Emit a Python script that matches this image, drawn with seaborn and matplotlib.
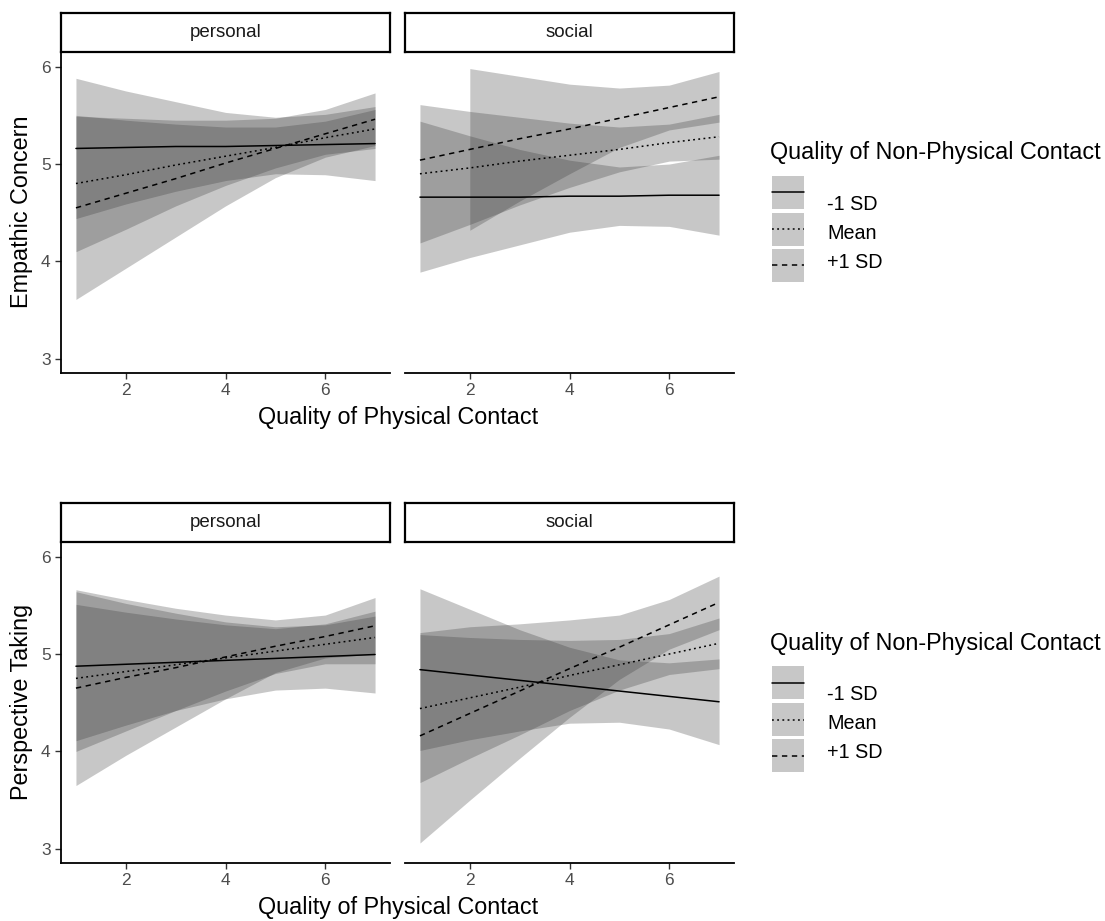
import numpy as np
import pandas as pd
import matplotlib
matplotlib.use("Agg")
import matplotlib.pyplot as plt
from matplotlib.patches import Rectangle
import seaborn as sns

# ---- data -----------------------------------------------------------------

X_POINTS = [1, 2, 3, 4, 5, 6, 7]
LEVELS = ["-1 SD", "Mean", "+1 SD"]
FACETS = ["personal", "social"]
X_TICKS = [2, 4, 6]
Y_TICKS = [3, 4, 5, 6]
X_TITLE = "Quality of Physical Contact"
Y_TITLES = ["Empathic Concern", "Perspective Taking"]
LEGEND_TITLE = "Quality of Non-Physical Contact"

# Empathic Concern / personal
EC_PERSONAL_FIT = {
    "-1 SD": [5.16, 5.17, 5.18, 5.18, 5.19, 5.20, 5.21],
    "Mean": [4.80, 4.89, 4.99, 5.08, 5.17, 5.27, 5.36],
    "+1 SD": [4.55, 4.70, 4.85, 5.01, 5.16, 5.31, 5.46],
}
EC_PERSONAL_LOW = {
    "-1 SD": [4.44, 4.59, 4.72, 4.83, 4.90, 4.89, 4.83],
    "Mean": [4.10, 4.33, 4.57, 4.78, 4.96, 5.10, 5.16],
    "+1 SD": [3.61, 3.93, 4.25, 4.57, 4.86, 5.07, 5.19],
}
EC_PERSONAL_HIGH = {
    "-1 SD": [5.88, 5.75, 5.64, 5.53, 5.48, 5.51, 5.59],
    "Mean": [5.50, 5.45, 5.41, 5.38, 5.38, 5.44, 5.56],
    "+1 SD": [5.49, 5.47, 5.45, 5.45, 5.47, 5.56, 5.73],
}

# Empathic Concern / social (the +1 SD band starts at x = 2)
EC_SOCIAL_FIT = {
    "-1 SD": [4.66, 4.66, 4.66, 4.67, 4.67, 4.68, 4.68],
    "Mean": [4.90, 4.96, 5.03, 5.09, 5.15, 5.22, 5.28],
    "+1 SD": [5.04, 5.15, 5.26, 5.36, 5.47, 5.58, 5.69],
}
EC_SOCIAL_LOW = {
    "-1 SD": [3.89, 4.04, 4.17, 4.30, 4.37, 4.36, 4.27],
    "Mean": [4.19, 4.38, 4.58, 4.76, 4.92, 5.03, 5.05],
    "+1 SD": [None, 4.32, 4.62, 4.90, 5.17, 5.35, 5.43],
}
EC_SOCIAL_HIGH = {
    "-1 SD": [5.44, 5.29, 5.15, 5.04, 4.97, 5.00, 5.09],
    "Mean": [5.61, 5.54, 5.48, 5.42, 5.38, 5.41, 5.51],
    "+1 SD": [None, 5.98, 5.90, 5.82, 5.78, 5.81, 5.95],
}

# Perspective Taking / personal
PT_PERSONAL_FIT = {
    "-1 SD": [4.875, 4.895, 4.915, 4.935, 4.955, 4.975, 4.995],
    "Mean": [4.75, 4.82, 4.89, 4.96, 5.03, 5.10, 5.17],
    "+1 SD": [4.65, 4.76, 4.86, 4.97, 5.08, 5.18, 5.29],
}
PT_PERSONAL_LOW = {
    "-1 SD": [4.11, 4.27, 4.42, 4.54, 4.63, 4.65, 4.60],
    "Mean": [4.00, 4.21, 4.42, 4.62, 4.80, 4.90, 4.90],
    "+1 SD": [3.65, 3.96, 4.25, 4.54, 4.81, 4.96, 5.00],
}
PT_PERSONAL_HIGH = {
    "-1 SD": [5.64, 5.52, 5.42, 5.33, 5.28, 5.30, 5.39],
    "Mean": [5.51, 5.43, 5.36, 5.30, 5.26, 5.31, 5.44],
    "+1 SD": [5.66, 5.56, 5.47, 5.40, 5.35, 5.40, 5.58],
}

# Perspective Taking / social
PT_SOCIAL_FIT = {
    "-1 SD": [4.84, 4.785, 4.73, 4.675, 4.62, 4.565, 4.51],
    "Mean": [4.44, 4.55, 4.66, 4.78, 4.89, 5.00, 5.11],
    "+1 SD": [4.16, 4.39, 4.62, 4.85, 5.07, 5.30, 5.53],
}
PT_SOCIAL_LOW = {
    "-1 SD": [4.01, 4.12, 4.21, 4.29, 4.30, 4.23, 4.07],
    "Mean": [3.68, 3.93, 4.17, 4.42, 4.63, 4.79, 4.85],
    "+1 SD": [3.06, 3.50, 3.93, 4.35, 4.74, 5.05, 5.25],
}
PT_SOCIAL_HIGH = {
    "-1 SD": [5.67, 5.46, 5.25, 5.07, 4.94, 4.91, 4.95],
    "Mean": [5.20, 5.17, 5.15, 5.14, 5.15, 5.21, 5.37],
    "+1 SD": [5.22, 5.28, 5.31, 5.35, 5.40, 5.56, 5.80],
}

# ---- style --------------------------------------------------------------

RIBBON_COLOUR = "#333333"
RIBBON_ALPHA = 0.27
LINE_DASHES = {"-1 SD": "", "Mean": (1.2, 2.2), "+1 SD": (3.5, 3)}
W, H = 1105, 921

sns.set_style("ticks")
plt.rcParams["font.family"] = ["Liberation Sans", "DejaVu Sans"]


def px_box(left, top, width, height):
    # pixel box (from top-left) -> figure fraction rect
    return [left / W, 1 - (top + height) / H, width / W, height / H]


def draw_panel(ax, fit, low, high, first_col):
    for level in LEVELS:
        lo = np.array(low[level], dtype=float)
        hi = np.array(high[level], dtype=float)
        ok = ~np.isnan(lo)
        ax.fill_between(X_POINTS, lo, hi, where=ok, color=RIBBON_COLOUR,
                        alpha=RIBBON_ALPHA, linewidth=0)

    rows = []
    for level in LEVELS:
        for x, y in zip(X_POINTS, fit[level]):
            rows.append({"x": x, "y": y, "level": level})
    df = pd.DataFrame(rows)
    sns.lineplot(data=df, x="x", y="y", style="level", style_order=LEVELS,
                 dashes=LINE_DASHES, color="black", linewidth=1.1,
                 errorbar=None, legend=False, ax=ax)

    ax.set_xlim(0.7, 7.3)
    ax.set_ylim(2.855, 6.15)
    ax.set_xticks(X_TICKS)
    ax.set_yticks(Y_TICKS)
    ax.set_xlabel("")
    ax.set_ylabel("")
    ax.tick_params(colors="#333333", labelcolor="#4d4d4d", labelsize=12.5,
                   length=4, width=1.0)
    for side in ["top", "right"]:
        ax.spines[side].set_visible(False)
    ax.spines["bottom"].set_linewidth(1.3)
    ax.spines["bottom"].set_color("black")
    if first_col:
        ax.spines["left"].set_linewidth(1.3)
        ax.spines["left"].set_color("black")
    else:
        ax.spines["left"].set_visible(False)
        ax.tick_params(axis="y", left=False, labelleft=False)


def draw_strip(fig, left, top, label):
    sax = fig.add_axes(px_box(left, top, 329, 39))
    sax.set_xticks([])
    sax.set_yticks([])
    for sp in sax.spines.values():
        sp.set_visible(True)
        sp.set_color("black")
        sp.set_linewidth(1.6)
    sax.text(0.5, 0.5, label, ha="center", va="center", fontsize=13.5,
             color="#1a1a1a", transform=sax.transAxes)


def draw_legend(lax, off):
    lax.text(770, 153 + off, LEGEND_TITLE, ha="left", va="center",
             fontsize=16.8, color="black")
    key_tops = [176, 213, 249]
    label_y = [204, 233, 262]
    for level, top, ly in zip(LEVELS, key_tops, label_y):
        lax.add_patch(Rectangle((772, top + off), 32, 33, facecolor=RIBBON_COLOUR,
                                alpha=RIBBON_ALPHA, linewidth=0))
        dash = LINE_DASHES[level]
        ls = "-" if dash == "" else (0, dash)
        lax.plot([772, 804], [top + off + 16.5] * 2, color="black",
                 linewidth=1.1, linestyle=ls)
        lax.text(827, ly + off, level, ha="left", va="center", fontsize=14.2,
                 color="black")


fig = plt.figure(figsize=(W / 100, H / 100), dpi=100)

panels = [
    (EC_PERSONAL_FIT, EC_PERSONAL_LOW, EC_PERSONAL_HIGH),
    (EC_SOCIAL_FIT, EC_SOCIAL_LOW, EC_SOCIAL_HIGH),
    (PT_PERSONAL_FIT, PT_PERSONAL_LOW, PT_PERSONAL_HIGH),
    (PT_SOCIAL_FIT, PT_SOCIAL_LOW, PT_SOCIAL_HIGH),
]
row_offsets = [0, 490]
col_lefts = [61, 405]

for i, (fit, low, high) in enumerate(panels):
    row, col = divmod(i, 2)
    off = row_offsets[row]
    ax = fig.add_axes(px_box(col_lefts[col], 52 + off, 329, 321))
    draw_panel(ax, fit, low, high, col == 0)
    draw_strip(fig, col_lefts[col], 13 + off, FACETS[col])

# axis titles
for row, off in enumerate(row_offsets):
    fig.text(398 / W, 1 - (417 + off) / H, X_TITLE, ha="center", va="center",
             fontsize=16.8, color="black")
    fig.text(22 / W, 1 - (212 + off) / H, Y_TITLES[row], ha="center",
             va="center", rotation=90, fontsize=16.8, color="black")

# legends drawn in pixel space
lax = fig.add_axes([0, 0, 1, 1])
lax.set_xlim(0, W)
lax.set_ylim(H, 0)
lax.axis("off")
for off in row_offsets:
    draw_legend(lax, off)

fig.savefig("out.png", dpi=100)
